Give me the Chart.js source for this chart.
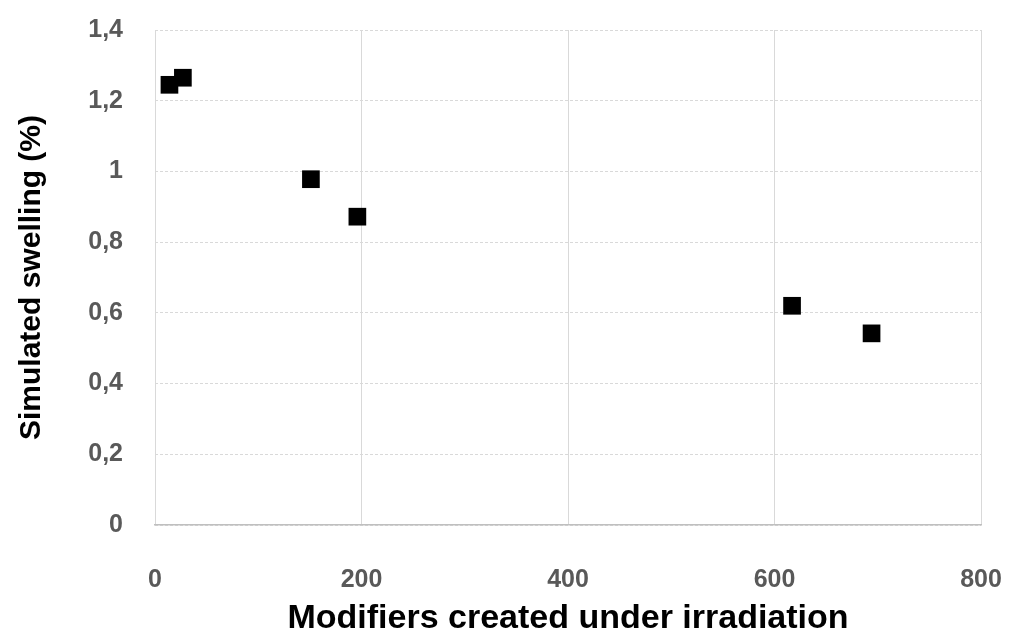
<!DOCTYPE html>
<html>
<head>
<meta charset="utf-8">
<script src="https://cdn.jsdelivr.net/npm/chart.js@4/dist/chart.umd.min.js"></script>
<style>
  html, body { margin: 0; padding: 0; background: #fff; }
  #wrap { width: 1013px; height: 632px; }
</style>
</head>
<body>
<div id="wrap"><canvas id="swelling" width="1013" height="632"></canvas></div>
<script>
// modifiers created vs simulated swelling (%)
const modifiers = [14, 27, 151, 196, 617, 694];
const swelling = [1.245, 1.265, 0.978, 0.872, 0.620, 0.542];
const xTicks = [0, 200, 400, 600, 800];
const yTicks = [0, 0.2, 0.4, 0.6, 0.8, 1, 1.2, 1.4];

const FONT = "'Liberation Sans', 'DejaVu Sans', sans-serif";

let points = modifiers.map(function (m, i) {
    return {x: m, y: swelling[i]};
});

// keep the plot box where it is in the picture, labels may overflow
function noOverflow(axis) {
    axis.paddingTop = 0;
    axis.paddingBottom = 0;
    axis.paddingLeft = 0;
    axis.paddingRight = 0;
}

const chart = new Chart("swelling", {
    type: "scatter",
    data: {
        datasets: [{
            data: points,
            pointStyle: "rect",
            radius: 12.5,
            hoverRadius: 12.5,
            backgroundColor: "#000",
            borderColor: "#000",
            borderWidth: 0
        }]
    },
    options: {
        responsive: false,
        animation: false,
        layout: { padding: { top: 30, right: 32, bottom: 0, left: 0 } },
        plugins: {
            legend: { display: false },
            tooltip: { enabled: false }
        },
        scales: {
            x: {
                min: 0, max: 800,
                afterBuildTicks: function (axis) {
                    axis.ticks = xTicks.map(v => ({value: v}));
                },
                afterFit: function (axis) {
                    axis.height = 107;
                    noOverflow(axis);
                },
                grid: { color: "#d9d9d9", lineWidth: 1, drawTicks: false },
                border: { color: "#bfbfbf", width: 1.5 },
                ticks: {
                    padding: 40,
                    color: "#595959",
                    font: { family: FONT, size: 25, weight: "bold" }
                },
                title: {
                    display: true,
                    text: "Modifiers created under irradiation",
                    color: "#000",
                    padding: { top: 0, bottom: 0 },
                    font: { family: FONT, size: 34, weight: "bold", lineHeight: 0.8 }
                }
            },
            y: {
                min: 0, max: 1.4,
                afterBuildTicks: function (axis) {
                    axis.ticks = yTicks.map(v => ({value: v}));
                },
                afterFit: function (axis) {
                    axis.width = 155;
                    noOverflow(axis);
                },
                grid: { color: "#d9d9d9", lineWidth: 1, drawTicks: false },
                border: { display: false, dash: [3, 2] },
                ticks: {
                    padding: 32,
                    color: "#595959",
                    font: { family: FONT, size: 25, weight: "bold" },
                    callback: function (v) {
                        return String(Math.round(v * 10) / 10).replace(".", ",");
                    }
                },
                title: {
                    display: true,
                    text: "Simulated swelling (%)",
                    color: "#000",
                    padding: { top: 14, bottom: 0 },
                    font: { family: FONT, size: 30, weight: "bold" }
                }
            }
        }
    }
});
</script>
</body>
</html>
